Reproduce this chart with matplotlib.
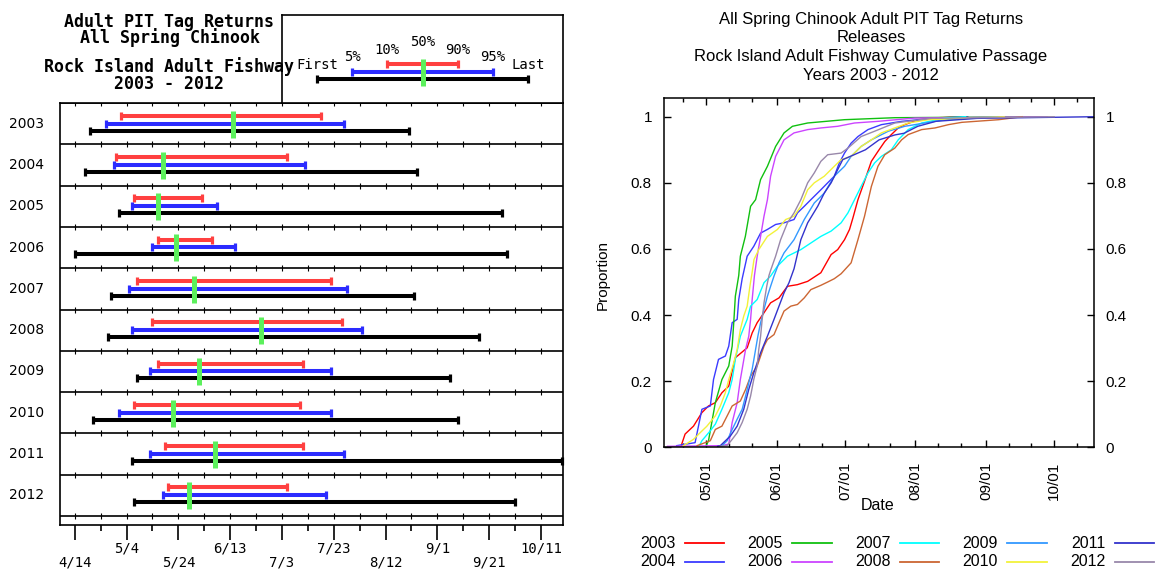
import matplotlib
matplotlib.use('Agg')
import matplotlib.pyplot as plt
from matplotlib.lines import Line2D

# --- Data (day of year) ---
YEARS = [2003, 2004, 2005, 2006, 2007, 2008, 2009, 2010, 2011, 2012]
FIRST = [110, 108, 121, 104, 118, 117, 128, 111, 126, 127]
P05 = [116, 119, 126, 134, 125, 126, 133, 121, 133, 138]
P10 = [122, 120, 127, 136, 128, 134, 136, 127, 139, 140]
P50 = [165, 138, 136, 143, 150, 176, 152, 142, 158, 148]
P90 = [199, 186, 153, 157, 203, 207, 192, 191, 192, 186]
P95 = [208, 193, 159, 166, 209, 215, 203, 203, 208, 201]
LAST = [233, 236, 269, 271, 235, 260, 249, 252, 292, 274]

LEFT_MAJOR = [104, 124, 144, 164, 184, 204, 224, 244, 264, 284]
LEFT_LABELS = ['4/14', '5/4', '5/24', '6/13', '7/3', '7/23', '8/12', '9/1', '9/21', '10/11']
LEFT_MINOR = [114, 134, 154, 174, 194, 214, 234, 254, 274]

MONTH_DAYS = [121, 152, 182, 213, 244, 274]
MONTH_LABELS = ['05/01', '06/01', '07/01', '08/01', '09/01', '10/01']
MINOR_DAYS = [111, 131, 141, 162, 172, 192, 202, 223, 233, 254, 264, 284]

# cumulative passage curves (day of year, proportion)
day_2003 = [110, 111.7, 115.4, 119.1, 122, 125, 127.9, 130.9, 133.8, 139, 141.2, 143.4, 146.4, 149.3, 153,
            156.7, 161.1, 165.6, 171.4, 175.9, 178.8, 181.8, 184, 185.5, 187.7, 190.6, 193.6, 196.5, 199.5,
            202.4, 205.4, 208.3, 214.2, 223.1, 233]
prop_2003 = [0.005, 0.04, 0.064, 0.105, 0.125, 0.135, 0.165, 0.185, 0.271, 0.301, 0.346, 0.377, 0.407, 0.437,
             0.452, 0.487, 0.492, 0.502, 0.528, 0.583, 0.598, 0.628, 0.659, 0.694, 0.749, 0.805, 0.865, 0.895,
             0.925, 0.946, 0.966, 0.976, 0.991, 0.997, 1.0]
day_2004 = [108, 116.1, 119.1, 122.8, 124.2, 126.4, 129.4, 130.9, 132.4, 134.6, 135.3, 136.8, 139, 141.9, 144.9,
            147.9, 151.5, 155.2, 159.6, 161.1, 164.1, 167, 171.4, 174.4, 177.3, 179.5, 181.8, 184.7, 187.7,
            192.1, 198, 206.9, 221.6, 236]
prop_2004 = [0.005, 0.014, 0.115, 0.125, 0.205, 0.266, 0.276, 0.306, 0.377, 0.387, 0.447, 0.51, 0.578, 0.608,
             0.648, 0.659, 0.674, 0.679, 0.689, 0.709, 0.729, 0.749, 0.779, 0.8, 0.82, 0.86, 0.89, 0.92, 0.94,
             0.961, 0.976, 0.986, 0.996, 1.0]
day_2005 = [121, 122, 125, 127.9, 130.9, 132.4, 133.1, 133.8, 135.3, 136, 138.2, 140.5, 142.7, 144.9, 147.9,
            151.5, 155.2, 158.9, 165.6, 181.8, 203.9, 269]
prop_2005 = [0.005, 0.02, 0.135, 0.205, 0.246, 0.306, 0.377, 0.457, 0.52, 0.578, 0.638, 0.729, 0.749, 0.81,
             0.85, 0.91, 0.951, 0.971, 0.981, 0.991, 0.997, 1.0]
day_2006 = [104, 128, 130.9, 132.4, 134.6, 136, 138.3, 139.7, 140.5, 141.2, 142.2, 143.4, 144.9, 146.4, 147.9,
            149.3, 151.5, 155.2, 159.6, 165.6, 171.4, 178.8, 186.2, 196.5, 212.7, 271]
prop_2006 = [0.003, 0.005, 0.01, 0.075, 0.135, 0.205, 0.296, 0.336, 0.387, 0.447, 0.52, 0.578, 0.638, 0.699,
             0.749, 0.82, 0.88, 0.93, 0.951, 0.961, 0.966, 0.971, 0.981, 0.986, 0.996, 1.0]
day_2007 = [118, 119.1, 122.8, 125, 127.9, 130.9, 132.4, 133.8, 136, 139, 140.5, 143.4, 146.4, 149.3, 152.3,
            156.7, 162.6, 167, 171.4, 175.9, 180.3, 183.3, 186.2, 189.1, 192.1, 195, 198, 202.4, 205.4, 209.8,
            215.7, 226, 235]
prop_2007 = [0.005, 0.02, 0.05, 0.07, 0.115, 0.165, 0.205, 0.266, 0.336, 0.387, 0.427, 0.447, 0.498, 0.518,
             0.548, 0.578, 0.598, 0.618, 0.638, 0.654, 0.679, 0.709, 0.749, 0.789, 0.83, 0.86, 0.88, 0.9, 0.93,
             0.961, 0.981, 0.996, 1.0]
day_2008 = [117, 122.8, 125, 127.9, 130.2, 132.4, 136, 138.3, 140.5, 143.4, 146.4, 147.9, 150.8, 153, 155.2,
            158.2, 161.1, 164.1, 167, 171.4, 174.4, 177.3, 180.3, 184.7, 187.7, 190.6, 193.6, 196.5, 199.5,
            203.9, 206.9, 209.8, 215.7, 221.6, 227.5, 233.4, 249.6, 260]
prop_2008 = [0.005, 0.02, 0.054, 0.064, 0.095, 0.125, 0.14, 0.175, 0.215, 0.246, 0.306, 0.326, 0.341, 0.377,
             0.412, 0.427, 0.432, 0.452, 0.477, 0.49, 0.5, 0.51, 0.525, 0.558, 0.628, 0.699, 0.789, 0.85, 0.885,
             0.905, 0.93, 0.946, 0.961, 0.966, 0.976, 0.983, 0.991, 1.0]
day_2009 = [128, 130.2, 132.4, 134.6, 136.8, 138.3, 139.7, 141.2, 142.7, 143.7, 144.9, 146.4, 147.9, 149.3,
            150.8, 153, 155.2, 159.6, 164.1, 168.5, 172.9, 177.3, 181.8, 184.7, 189.1, 193.6, 201, 208.3, 225, 249]
prop_2009 = [0.005, 0.02, 0.054, 0.085, 0.115, 0.155, 0.195, 0.236, 0.296, 0.336, 0.377, 0.417, 0.457, 0.487,
             0.518, 0.558, 0.588, 0.628, 0.689, 0.739, 0.769, 0.82, 0.85, 0.88, 0.91, 0.93, 0.956, 0.971, 0.99, 1.0]
day_2010 = [111, 115.4, 118.3, 121.3, 125, 127.2, 129.4, 130.9, 133.1, 134.6, 136, 137.5, 139, 140.2, 141.2,
            142, 144.1, 147.9, 152.3, 155.9, 159.6, 162.6, 165.6, 168.5, 172.9, 177.3, 180.3, 184.7, 189.1,
            193.6, 198, 203.9, 209.8, 218.7, 252]
prop_2010 = [0.005, 0.024, 0.044, 0.064, 0.095, 0.125, 0.165, 0.205, 0.256, 0.296, 0.356, 0.397, 0.427, 0.487,
             0.53, 0.568, 0.598, 0.638, 0.659, 0.689, 0.699, 0.729, 0.779, 0.8, 0.82, 0.85, 0.87, 0.88, 0.91,
             0.93, 0.951, 0.966, 0.981, 0.991, 1.0]
day_2011 = [126, 127.2, 131.6, 134.6, 137.5, 139.7, 141.9, 144.9, 147.9, 150.8, 153, 155.2, 157.4, 159.6, 162.6,
            165.6, 170, 172.9, 175.9, 178.8, 181, 186, 191, 197, 204, 208, 214, 222, 240, 292]
prop_2011 = [0.003, 0.005, 0.034, 0.064, 0.115, 0.175, 0.225, 0.286, 0.336, 0.387, 0.427, 0.467, 0.498, 0.54,
             0.628, 0.679, 0.729, 0.769, 0.8, 0.84, 0.87, 0.885, 0.9, 0.93, 0.945, 0.95, 0.971, 0.986, 0.995, 1.0]
day_2012 = [127, 130.2, 132.4, 134.6, 136.8, 139, 140.5, 141.9, 143.4, 144.1, 144.9, 145.6, 146.4, 147.6, 148.6,
            149.3, 151.5, 153.7, 156.7, 159.6, 162.6, 165.6, 168.5, 171.4, 174.4, 180.3, 183.3, 189.1, 195,
            203.9, 220, 274]
prop_2012 = [0.003, 0.005, 0.024, 0.044, 0.075, 0.115, 0.155, 0.205, 0.246, 0.296, 0.336, 0.387, 0.437, 0.487,
             0.52, 0.535, 0.578, 0.628, 0.679, 0.709, 0.749, 0.8, 0.83, 0.865, 0.885, 0.89, 0.905, 0.94, 0.956,
             0.981, 0.995, 1.0]

CURVE_DAYS = [day_2003, day_2004, day_2005, day_2006, day_2007, day_2008, day_2009, day_2010, day_2011, day_2012]
CURVE_PROPS = [prop_2003, prop_2004, prop_2005, prop_2006, prop_2007, prop_2008, prop_2009, prop_2010,
               prop_2011, prop_2012]
CURVE_COLORS = ['#ff0000', '#3a3aff', '#10c010', '#cc44ff', '#00ffff', '#cc6633', '#3399ff', '#f2f23a',
                '#3333cc', '#9988aa']

RED, BLUE, GREEN = '#ff4040', '#2b2bff', '#5cf05c'
MONO = 'DejaVu Sans Mono'
SANS = 'Liberation Sans'

W, H = 1155, 569
fig = plt.figure(figsize=(W / 100, H / 100), dpi=100)


def fig_box(x0, y0, x1, y1):
    # pixel box (from top-left) -> figure fraction rect
    return [x0 / W, 1 - y1 / H, (x1 - x0) / W, (y1 - y0) / H]


def draw_bar(a, x0, x1, y, color):
    a.hlines(y, x0, x1, color=color, lw=2.9, zorder=3)
    a.plot([x0, x1], [y, y], ls='none', marker='|', ms=6, mew=2.3, color=color, zorder=3, clip_on=False)


# --- Left panel: quantile bars ---
ROW_H = 41.3
n = len(YEARS)
ax = fig.add_axes(fig_box(60, 103, 563, 525))
ax.set_xlim(98.3, 292.5)
ax.set_ylim(n * ROW_H + 9, 0)
ax.set_xticks([])
ax.set_yticks([])
for s in ax.spines.values():
    s.set_linewidth(1.2)

for i in range(n + 1):
    yb = i * ROW_H
    ax.axhline(yb, color='black', lw=1.2)
    ax.vlines(LEFT_MAJOR + LEFT_MINOR, yb - 3, yb + 3, color='black', lw=0.8)

for i, yr in enumerate(YEARS):
    top = i * ROW_H
    ax.text(-0.032, top + ROW_H / 2, str(yr), transform=ax.get_yaxis_transform(),
            ha='right', va='center', fontsize=10, family='DejaVu Sans')
    draw_bar(ax, P10[i], P90[i], top + 12.7, RED)
    draw_bar(ax, P05[i], P95[i], top + 20.5, BLUE)
    draw_bar(ax, FIRST[i], LAST[i], top + 27.5, 'black')
    ax.vlines(P50[i], top + 7.5, top + 34.5, color=GREEN, lw=3.6, zorder=5)

bottom = n * ROW_H + 9
ax.vlines(LEFT_MAJOR, bottom, bottom + 15, color='black', lw=1.2, clip_on=False)
ax.vlines(LEFT_MINOR, bottom, bottom + 6, color='black', lw=1.2, clip_on=False)
for k, (d, lab) in enumerate(zip(LEFT_MAJOR, LEFT_LABELS)):
    ty = bottom + 38 if k % 2 == 0 else bottom + 23
    ax.text(d, ty, lab, ha='center', va='center', family=MONO, fontsize=10, clip_on=False)

# legend box
KEY = [0.125, 0.25, 0.375, 0.5, 0.625, 0.75, 0.875]
KEY_LABELS = ['First', '5%', '10%', '50%', '90%', '95%', 'Last']
KEY_LABEL_Y = [0.43, 0.521, 0.60, 0.691, 0.60, 0.521, 0.43]
lax = fig.add_axes(fig_box(282, 14.7, 563, 103))
lax.set_xlim(0, 1)
lax.set_ylim(0, 1)
lax.set_xticks([])
lax.set_yticks([])
for s in lax.spines.values():
    s.set_linewidth(1.2)
draw_bar(lax, KEY[2], KEY[4], 0.442, RED)
draw_bar(lax, KEY[1], KEY[5], 0.351, BLUE)
draw_bar(lax, KEY[0], KEY[6], 0.272, 'black')
lax.vlines(KEY[3], 0.192, 0.498, color=GREEN, lw=3.6, zorder=5)
for kx, ky, lab in zip(KEY, KEY_LABEL_Y, KEY_LABELS):
    lax.text(kx, ky, lab, ha='center', va='center', family=MONO, fontsize=10)

# title lines are set tight, as in the original, so keep each pair as one text
for ty, block in zip([30, 75], ['Adult PIT Tag Returns\nAll Spring Chinook',
                                 'Rock Island Adult Fishway\n2003 - 2012']):
    fig.text(169.5 / W, 1 - ty / H, block, ha='center', va='center', multialignment='center',
             family=MONO, fontweight='bold', fontsize=12, linespacing=0.86)

# --- Right panel: cumulative passage ---
rax = fig.add_axes(fig_box(663.7, 98, 1093.8, 447.3))
for d, p, c in zip(CURVE_DAYS, CURVE_PROPS, CURVE_COLORS):
    rax.plot(d, p, color=c, lw=1.0)
rax.set_xlim(102.3, 291.4)
rax.set_ylim(0, 1.0566)
rax.set_xticks(MONTH_DAYS)
rax.set_xticklabels(MONTH_LABELS, rotation=90, family=SANS)
rax.set_xticks(MINOR_DAYS, minor=True)
rax.set_yticks([0, 0.2, 0.4, 0.6, 0.8, 1])
rax.set_yticklabels(['0', '0.2', '0.4', '0.6', '0.8', '1'], family=SANS)
rax.tick_params(which='major', direction='in', top=True, right=True, labelright=True,
                labelsize=11, length=5, width=1)
rax.tick_params(which='minor', direction='in', top=True, length=3, width=1)
rax.tick_params(axis='x', pad=10.4)
rax.tick_params(axis='y', pad=8.5)
for s in rax.spines.values():
    s.set_linewidth(1.1)

for ty, line in zip([19.3, 37.7, 56.7, 75], ['All Spring Chinook Adult PIT Tag Returns', 'Releases',
                                              'Rock Island Adult Fishway Cumulative Passage',
                                              'Years 2003 - 2012']):
    fig.text(871 / W, 1 - ty / H, line, ha='center', va='center', family=SANS, fontsize=12)
fig.text(603 / W, 1 - 275 / H, 'Proportion', rotation=90, ha='center', va='center',
         family=SANS, fontsize=11)
fig.text(878 / W, 1 - 506 / H, 'Date', ha='center', va='center', family=SANS, fontsize=11.5)

# legend, filled column by column
for i, (yr, c) in enumerate(zip(YEARS, CURVE_COLORS)):
    lx = 675.4 + (i // 2) * 107.5
    ly = 543 + (i % 2) * 19
    fig.text(lx / W, 1 - ly / H, str(yr), ha='right', va='center', family=SANS, fontsize=11.5)
    fig.add_artist(Line2D([(lx + 9.5) / W, (lx + 49) / W], [1 - ly / H, 1 - ly / H],
                          color=c, lw=1.3, transform=fig.transFigure))

fig.savefig('out.png', dpi=100)
